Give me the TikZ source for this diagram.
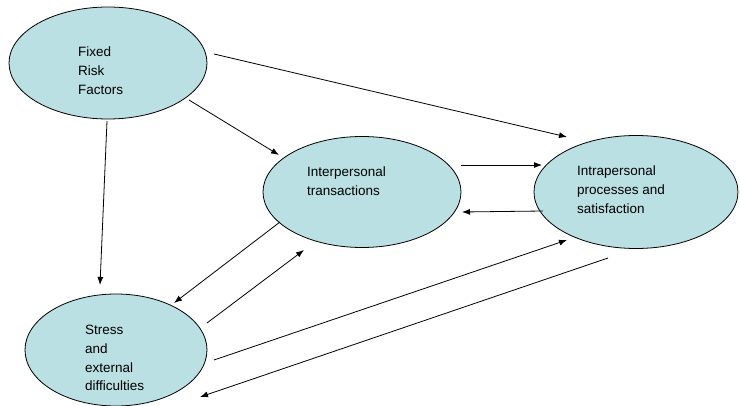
\documentclass[tikz,border=0pt]{standalone}
\usepackage{fontspec}
\setmainfont{Liberation Sans}
\usetikzlibrary{shapes.geometric,arrows.meta}
\definecolor{cellblue}{RGB}{187,224,227}
\begin{document}
\begin{tikzpicture}[x=1pt,y=-1pt,
  bubble/.style={ellipse,draw=black,line width=0.8pt,fill=cellblue,inner sep=0pt},
  txt/.style={anchor=base west,align=left,inner sep=0pt,font=\fontsize{13.5}{18.7}\selectfont},
  conn/.style={-{Latex[length=8pt,width=6pt]},line width=0.8pt}]
\useasboundingbox (0,0) rectangle (740,406);
% ellipses
\node[bubble,minimum width=198pt,minimum height=112pt] (fixed) at (108,63) {};
\node[bubble,minimum width=198pt,minimum height=111pt] (inter) at (362,192) {};
\node[bubble,minimum width=204pt,minimum height=113pt] (intra) at (636,192) {};
\node[bubble,minimum width=182pt,minimum height=112pt] (stress) at (116,350) {};
% texts (base anchor = baseline of the last line)
\node[txt] (fixedtxt) at (78,94.4) {Fixed\\Risk\\Factors};
\node[txt] (intertxt) at (307,195.7) {Interpersonal\\transactions};
\node[txt] (intratxt) at (577,213.4) {Intrapersonal\\processes and\\satisfaction};
\node[txt] (stresstxt) at (85,391) {Stress\\and\\external\\difficulties};
% connector ends
\coordinate (a1s) at (214,54);  \coordinate (a1e) at (567,137);
\coordinate (a2s) at (189,100); \coordinate (a2e) at (279,155);
\coordinate (a3s) at (107,121); \coordinate (a3e) at (100,285);
\coordinate (a4s) at (461,165); \coordinate (a4e) at (542,165);
\coordinate (a5s) at (543,211); \coordinate (a5e) at (462,212);
\coordinate (a6s) at (280,222); \coordinate (a6e) at (174,303);
\coordinate (a7s) at (207,323); \coordinate (a7e) at (304,250);
\coordinate (a8s) at (214,360); \coordinate (a8e) at (567,240);
\coordinate (a9s) at (608,258); \coordinate (a9e) at (200,397);
% connectors
\draw[conn] (a1s) -- (a1e);
\draw[conn] (a2s) -- (a2e);
\draw[conn] (a3s) -- (a3e);
\draw[conn] (a4s) -- (a4e);
\draw[conn] (a5s) -- (a5e);
\draw[conn] (a6s) -- (a6e);
\draw[conn] (a7s) -- (a7e);
\draw[conn] (a8s) -- (a8e);
\draw[conn] (a9s) -- (a9e);
\end{tikzpicture}
\end{document}
